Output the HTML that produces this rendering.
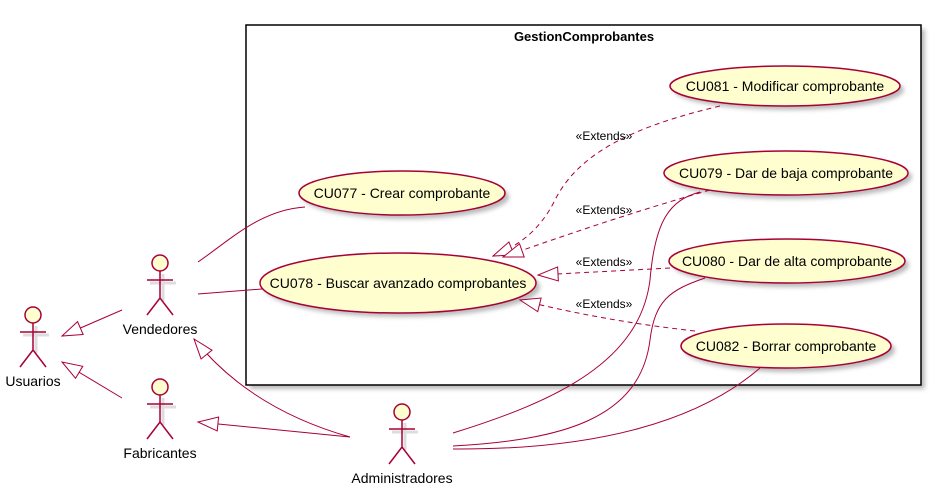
<!DOCTYPE html>
<html><head><meta charset="utf-8"><style>
body{margin:0;background:#fff}
svg{display:block;font-family:"Liberation Sans",sans-serif}
</style></head><body>
<svg width="932" height="496" viewBox="0 0 932 496">
<defs>
<marker id="tri" markerWidth="22" markerHeight="16" refX="21" refY="8" orient="auto" markerUnits="userSpaceOnUse">
<path d="M1,1 L21,8 L1,15 Z" fill="#fff" stroke="#A80036" stroke-width="1"/>
</marker>
<filter id="sh" x="-20%" y="-20%" width="150%" height="160%"><feGaussianBlur stdDeviation="2"/></filter>
</defs>

<g>
<rect x="250" y="29" width="675" height="360" fill="#bbb" filter="url(#sh)"/>
<rect x="246" y="25" width="675" height="360" fill="#fff" stroke="#000" stroke-width="1.5"/>
<text x="584" y="41" font-size="13" font-weight="bold" text-anchor="middle">GestionComprobantes</text>
</g>

<g font-size="14" text-anchor="middle">
<g>
<ellipse cx="789" cy="90" rx="115" ry="20" fill="#bbb" filter="url(#sh)"/>
<ellipse cx="785" cy="86" rx="115" ry="20" fill="#FEFECE" stroke="#A80036" stroke-width="1.5"/>
<text x="785" y="91">CU081 - Modificar comprobante</text></g>
<g>
<ellipse cx="406" cy="197" rx="103" ry="22" fill="#bbb" filter="url(#sh)"/>
<ellipse cx="402" cy="193" rx="103" ry="22" fill="#FEFECE" stroke="#A80036" stroke-width="1.5"/>
<text x="402" y="198">CU077 - Crear comprobante</text></g>
<g>
<ellipse cx="790" cy="177" rx="122" ry="22" fill="#bbb" filter="url(#sh)"/>
<ellipse cx="786" cy="173" rx="122" ry="22" fill="#FEFECE" stroke="#A80036" stroke-width="1.5"/>
<text x="786" y="178">CU079 - Dar de baja comprobante</text></g>
<g>
<ellipse cx="402" cy="287" rx="138" ry="30" fill="#bbb" filter="url(#sh)"/>
<ellipse cx="398" cy="283" rx="138" ry="30" fill="#FEFECE" stroke="#A80036" stroke-width="1.5"/>
<text x="398" y="288">CU078 - Buscar avanzado comprobantes</text></g>
<g>
<ellipse cx="791" cy="265" rx="118" ry="22" fill="#bbb" filter="url(#sh)"/>
<ellipse cx="787" cy="261" rx="118" ry="22" fill="#FEFECE" stroke="#A80036" stroke-width="1.5"/>
<text x="787" y="266">CU080 - Dar de alta comprobante</text></g>
<g>
<ellipse cx="790" cy="350" rx="105" ry="22" fill="#bbb" filter="url(#sh)"/>
<ellipse cx="786" cy="346" rx="105" ry="22" fill="#FEFECE" stroke="#A80036" stroke-width="1.5"/>
<text x="786" y="351">CU082 - Borrar comprobante</text></g>
</g>

<g fill="none" stroke="#A80036" stroke-width="1">
<path d="M198,262 C230,240 260,210 305,207"/>
<path d="M198,294 L262,289"/>
<path d="M122,310 L62,336" marker-end="url(#tri)"/>
<path d="M122,398 L62,362" marker-end="url(#tri)"/>
<path d="M350,437 C290,420 235,390 194,339" marker-end="url(#tri)"/>
<path d="M350,437 L198,422" marker-end="url(#tri)"/>
<path d="M453,433 C560,400 640,360 650,280 C655,220 670,200 700,192"/>
<path d="M453,446 C560,440 640,420 650,340 C655,300 670,290 705,278"/>
<path d="M453,449 C600,450 700,420 760,368"/>
</g>

<g fill="none" stroke="#A80036" stroke-width="1" stroke-dasharray="5,4">
<path d="M720,106 C640,125 580,150 555,200 C540,230 520,245 493,256" marker-end="url(#tri)"/>
<path d="M710,190 C640,210 580,230 503,257" marker-end="url(#tri)"/>
<path d="M670,268 L538,275" marker-end="url(#tri)"/>
<path d="M695,331 C640,325 580,315 520,300" marker-end="url(#tri)"/>
</g>
<g font-size="12" fill="#000" text-anchor="middle">
<text x="604" y="140">«Extends»</text>
<text x="604" y="214">«Extends»</text>
<text x="604" y="266">«Extends»</text>
<text x="604" y="308">«Extends»</text>
</g>

<g id="actors"></g>
</svg>
<script>
const actors=[["usuarios","Usuarios",33,315],["vendedores","Vendedores",160,263],["fabricantes","Fabricantes",160,387],["administradores","Administradores",402,412]];
const NS="http://www.w3.org/2000/svg";
const root=document.getElementById('actors');
actors.forEach(a=>{
  const [id,label,x,y]=a;
  const g=document.createElementNS(NS,'g');
  
  
  const sh=`<g stroke="#ddd" stroke-width="3" fill="none" transform="translate(3,3)"><path d="M${x},${y+8} V${y+35} M${x-13},${y+17} H${x+13}"/></g>`;
  g.innerHTML=sh+`<circle cx="${x}" cy="${y}" r="8" fill="#FEFECE" stroke="#A80036" stroke-width="1.5"/>`+
   `<path d="M${x},${y+8} V${y+35} M${x-13},${y+17} H${x+13} M${x-13},${y+52} L${x},${y+35} L${x+13},${y+52}" stroke="#A80036" stroke-width="1.5" fill="none"/>`+
   `<text x="${x}" y="${y+71}" font-size="14" text-anchor="middle">${label}</text>`;
  root.appendChild(g);
});
</script>
</body></html>
